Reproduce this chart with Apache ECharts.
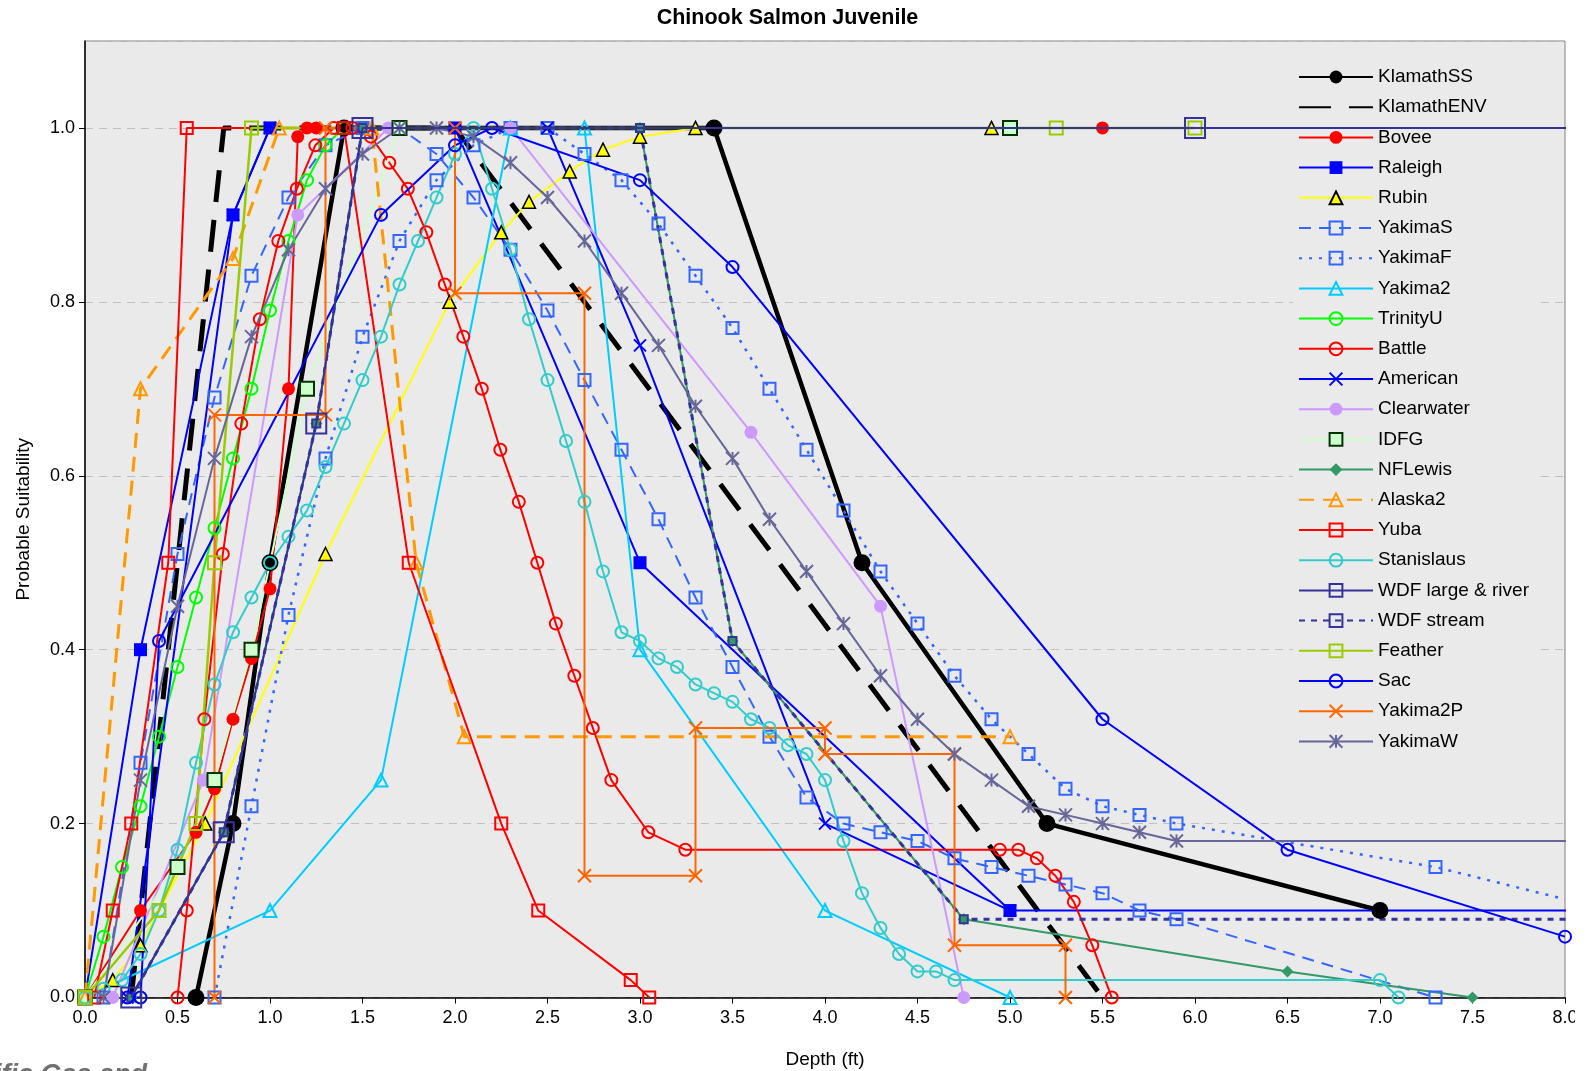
<!DOCTYPE html>
<html>
<head>
<meta charset="utf-8">
<title>Chinook Salmon Juvenile</title>
<script src="https://cdn.jsdelivr.net/npm/echarts@6/dist/echarts.min.js"></script>
<style>
  html, body { margin: 0; padding: 0; background: #ffffff; }
  #chart { width: 1575px; height: 1071px; }
</style>
</head>
<body>
<div id="chart"></div>
<script>
// Habitat suitability curves: [depth (ft), probable suitability]
const klamathSS = [[0.6,0],[0.8,0.2],[1.0,0.5],[1.4,1.0],[3.4,1.0],[4.2,0.5],[5.2,0.2],[7.0,0.1]];
const klamathENV = [[0.25,0],[0.75,1.0],[2.0,1.0],[5.5,0]];
const bovee = [[0,0],[0.3,0.1],[0.6,0.19],[0.7,0.24],[0.8,0.32],[0.9,0.39],[1.0,0.47],[1.1,0.7],[1.15,0.99],[1.2,1.0],[1.25,1.0],[5.5,1.0]];
const raleigh = [[0,0],[0.3,0.4],[0.8,0.9],[1.0,1.0],[2.0,1.0],[3.0,0.5],[5.0,0.1],[8.2,0.1]];
const rubin = [[0,0],[0.15,0.02],[0.3,0.06],[0.65,0.2],[1.3,0.51],[1.97,0.8],[2.25,0.88],[2.4,0.915],[2.62,0.95],[2.8,0.975],[3.0,0.99],[3.3,1.0],[4.9,1.0]];
const yakimaS = [[0.1,0],[0.3,0.27],[0.5,0.51],[0.7,0.69],[0.9,0.83],[1.1,0.92],[1.3,0.98],[1.5,1.0],[1.7,1.0],[1.9,0.97],[2.1,0.92],[2.3,0.86],[2.5,0.79],[2.7,0.71],[2.9,0.63],[3.1,0.55],[3.3,0.46],[3.5,0.38],[3.7,0.30],[3.9,0.23],[4.1,0.20],[4.3,0.19],[4.5,0.18],[4.7,0.16],[4.9,0.15],[5.1,0.14],[5.3,0.13],[5.5,0.12],[5.7,0.10],[5.9,0.09],[7.3,0]];
const yakimaF = [[0.7,0],[0.9,0.22],[1.1,0.44],[1.3,0.62],[1.5,0.76],[1.7,0.87],[1.9,0.94],[2.1,0.98],[2.3,1.0],[2.5,1.0],[2.7,0.97],[2.9,0.94],[3.1,0.89],[3.3,0.83],[3.5,0.77],[3.7,0.70],[3.9,0.63],[4.1,0.56],[4.3,0.49],[4.5,0.43],[4.7,0.37],[4.9,0.32],[5.1,0.28],[5.3,0.24],[5.5,0.22],[5.7,0.21],[5.9,0.20],[7.3,0.15],[8.0,0.113]];
const yakima2 = [[0,0],[1.0,0.1],[1.6,0.25],[2.3,1.0],[2.7,1.0],[3.0,0.4],[4.0,0.1],[5.0,0]];
const trinityU = [[0,0],[0.1,0.07],[0.2,0.15],[0.3,0.22],[0.4,0.3],[0.5,0.38],[0.6,0.46],[0.7,0.54],[0.8,0.62],[0.9,0.7],[1.0,0.79],[1.1,0.87],[1.2,0.94],[1.3,0.98],[1.4,1.0]];
const battle = [[0.5,0],[0.55,0.1],[0.645,0.32],[0.745,0.51],[0.845,0.66],[0.945,0.78],[1.045,0.87],[1.145,0.93],[1.245,0.98],[1.345,1.0],[1.445,1.0],[1.545,0.99],[1.645,0.96],[1.745,0.93],[1.845,0.88],[1.945,0.82],[2.045,0.76],[2.145,0.70],[2.245,0.63],[2.345,0.57],[2.445,0.50],[2.545,0.43],[2.645,0.37],[2.745,0.31],[2.845,0.25],[3.045,0.19],[3.245,0.17],[4.945,0.17],[5.045,0.17],[5.145,0.16],[5.245,0.14],[5.345,0.11],[5.445,0.06],[5.55,0]];
const american = [[0.23,0],[0.8,0.9],[1.0,1.0],[2.5,1.0],[3.0,0.75],[4.0,0.2],[5.0,0.1]];
const clearwater = [[0.15,0],[0.64,0.25],[1.15,0.9],[1.64,1.0],[2.3,1.0],[3.6,0.65],[4.3,0.45],[4.75,0]];
const idfg = [[0,0],[0.5,0.15],[0.7,0.25],[0.9,0.4],[1.2,0.7],[1.7,1.0],[5.0,1.0]];
const nfLewis = [[0.25,0],[0.75,0.19],[1.25,0.66],[1.5,1.0],[3.0,1.0],[3.5,0.41],[4.75,0.09],[6.5,0.03],[7.5,0]];
const alaska2 = [[0,0],[0.3,0.7],[0.8,0.85],[1.05,1.0],[1.55,1.0],[1.79,0.5],[2.05,0.3],[5.0,0.3]];
const yuba = [[0.05,0],[0.15,0.1],[0.25,0.2],[0.45,0.5],[0.55,1.0],[1.4,1.0],[1.75,0.5],[2.25,0.2],[2.45,0.1],[2.95,0.02],[3.05,0]];
const stanislaus = [[0,0],[0.1,0.01],[0.2,0.02],[0.3,0.05],[0.4,0.1],[0.5,0.17],[0.6,0.27],[0.7,0.36],[0.8,0.42],[0.9,0.46],[1.0,0.5],[1.1,0.53],[1.2,0.56],[1.3,0.61],[1.4,0.66],[1.5,0.71],[1.6,0.76],[1.7,0.82],[1.8,0.87],[1.9,0.92],[2.0,0.97],[2.1,1.0],[2.2,0.93],[2.3,0.86],[2.4,0.78],[2.5,0.71],[2.6,0.64],[2.7,0.57],[2.8,0.49],[2.9,0.42],[3.0,0.41],[3.1,0.39],[3.2,0.38],[3.3,0.36],[3.4,0.35],[3.5,0.34],[3.6,0.32],[3.7,0.31],[3.8,0.29],[3.9,0.28],[4.0,0.25],[4.1,0.18],[4.2,0.12],[4.3,0.08],[4.4,0.05],[4.5,0.03],[4.6,0.03],[4.7,0.02],[7.0,0.02],[7.1,0]];
const wdfLarge = [[0.25,0],[0.75,0.19],[1.25,0.66],[1.5,1.0],[6.0,1.0],[8.2,1.0]];
const wdfStream = [[0.25,0],[0.75,0.19],[1.25,0.66],[1.5,1.0],[3.0,1.0],[3.5,0.41],[4.75,0.09],[8.2,0.09]];
const feather = [[0,0],[0.4,0.1],[0.6,0.2],[0.7,0.5],[0.9,1.0],[5.25,1.0],[6.0,1.0]];
const sac = [[0.23,0],[0.3,0],[0.4,0.41],[1.6,0.9],[2.0,0.98],[2.2,1.0],[3.0,0.94],[3.5,0.84],[5.5,0.32],[6.5,0.17],[8.0,0.07]];
const yakima2P = [[0.7,0],[0.7,0.67],[1.3,0.67],[1.3,1.0],[2.0,1.0],[2.0,0.81],[2.7,0.81],[2.7,0.14],[3.3,0.14],[3.3,0.31],[4.0,0.31],[4.0,0.28],[4.7,0.28],[4.7,0.06],[5.3,0.06],[5.3,0]];
const yakimaW = [[0.1,0],[0.3,0.25],[0.5,0.45],[0.7,0.62],[0.9,0.76],[1.1,0.86],[1.3,0.93],[1.5,0.97],[1.7,1.0],[1.9,1.0],[2.1,0.99],[2.3,0.96],[2.5,0.92],[2.7,0.87],[2.9,0.81],[3.1,0.75],[3.3,0.68],[3.5,0.62],[3.7,0.55],[3.9,0.49],[4.1,0.43],[4.3,0.37],[4.5,0.32],[4.7,0.28],[4.9,0.25],[5.1,0.22],[5.3,0.21],[5.5,0.20],[5.7,0.19],[5.9,0.18],[8.2,0.18]];

const xTicks = [0,0.5,1,1.5,2,2.5,3,3.5,4,4.5,5,5.5,6,6.5,7,7.5,8];
const yTicks = [0,0.2,0.4,0.6,0.8,1.0];

const FONT = '"Liberation Sans", Arial, sans-serif';
const X_SYM = 'path://M0,0L10,10M10,0L0,10';
const STAR_SYM = 'path://M5,0L5,10M0,0L10,10M10,0L0,10';
const CLEAR = 'rgba(0,0,0,0)';

// Points at or past the right border only carry a curve on; they get no marker
function tail(arr, edge) {
  return arr.map(p => p[0] >= edge ? { value: p, symbol: 'none' } : p);
}

function mk(name, data, o) {
  const s = {
    name: name,
    type: 'line',
    data: tail(data, o.openEnd ? 8 : 8.01),
    symbol: o.symbol || 'none',
    symbolSize: o.size || 12,
    showSymbol: !!o.symbol,
    lineStyle: { color: o.color, width: o.width || 2, type: o.dash || 'solid', cap: 'butt' },
    itemStyle: {
      color: o.fill === undefined ? o.color : o.fill,
      borderColor: o.border || o.color,
      borderWidth: o.bw === undefined ? 2 : o.bw
    },
    emphasis: { disabled: true },
    animation: false,
    z: o.z || 2
  };
  if (o.noclip) s.clip = false;
  return s;
}

const series = [
  mk('KlamathSS', klamathSS, { color: '#000000', width: 4.5, symbol: 'circle', size: 17, bw: 0 }),
  mk('KlamathENV', klamathENV, { color: '#000000', width: 5, dash: [32, 18], fill: CLEAR, border: CLEAR, bw: 0 }),
  mk('Bovee', bovee, { color: '#FF0000', symbol: 'circle', size: 13, bw: 0 }),
  mk('Raleigh', raleigh, { color: '#0000FF', symbol: 'rect', size: 13, bw: 0, noclip: true }),
  mk('Rubin', rubin, { color: '#FFFF00', symbol: 'triangle', size: 13, fill: '#FFFF00', border: '#000000', bw: 1.5 }),
  mk('YakimaS', yakimaS, { color: '#3366FF', dash: [12, 8], symbol: 'rect', size: 12, fill: CLEAR }),
  mk('YakimaF', yakimaF, { color: '#3366FF', width: 2.5, dash: [3, 7], symbol: 'rect', size: 12, fill: CLEAR, openEnd: true }),
  mk('Yakima2', yakima2, { color: '#00CCFF', symbol: 'triangle', size: 13, fill: CLEAR }),
  mk('TrinityU', trinityU, { color: '#00FF00', symbol: 'circle', size: 12, fill: CLEAR }),
  mk('Battle', battle, { color: '#FF0000', symbol: 'circle', size: 12, fill: CLEAR }),
  mk('American', american, { color: '#0000FF', symbol: X_SYM, size: 12, fill: CLEAR }),
  mk('Clearwater', clearwater, { color: '#CC99FF', symbol: 'circle', size: 13, bw: 0 }),
  mk('IDFG', idfg, { color: '#CCFFCC', symbol: 'rect', size: 14, fill: '#CCFFCC', border: '#003300', bw: 2 }),
  mk('NFLewis', nfLewis, { color: '#339966', symbol: 'diamond', size: 12, bw: 0 }),
  mk('Alaska2', alaska2, { color: '#FF9900', width: 3, dash: [15, 9], symbol: 'triangle', size: 13, fill: CLEAR }),
  mk('Yuba', yuba, { color: '#FF0000', symbol: 'rect', size: 12, fill: CLEAR }),
  mk('Stanislaus', stanislaus, { color: '#33CCCC', symbol: 'circle', size: 12, fill: CLEAR }),
  mk('WDF large & river', wdfLarge, { color: '#333399', symbol: 'rect', size: 20, fill: CLEAR, noclip: true, z: 5 }),
  mk('WDF stream', wdfStream, { color: '#333399', width: 3, dash: [6, 6], symbol: 'rect', size: 8, fill: CLEAR, noclip: true }),
  mk('Feather', feather, { color: '#99CC00', width: 2.5, symbol: 'rect', size: 13, fill: CLEAR }),
  mk('Sac', sac, { color: '#0000FF', symbol: 'circle', size: 12, fill: CLEAR }),
  mk('Yakima2P', yakima2P, { color: '#FF6600', symbol: X_SYM, size: 13, fill: CLEAR }),
  mk('YakimaW', yakimaW, { color: '#666699', symbol: STAR_SYM, size: 13, fill: CLEAR, noclip: true })
];

const chart = echarts.init(document.getElementById('chart'), null, { renderer: 'canvas' });

chart.setOption({
  animation: false,
  backgroundColor: '#ffffff',
  textStyle: { fontFamily: FONT },
  title: {
    text: 'Chinook Salmon Juvenile',
    left: 'center',
    top: 2,
    textStyle: { fontFamily: FONT, fontSize: 21.5, fontWeight: 'bold', color: '#000000' }
  },
  grid: {
    left: 85, right: 10, top: 41, bottom: 73.5,
    outerBoundsMode: 'none',
    containLabel: false,
    show: true,
    backgroundColor: '#EAEAEA',
    borderColor: '#808080',
    borderWidth: 1
  },
  legend: {
    orient: 'vertical',
    left: 1293,
    top: 62,
    itemWidth: 74,
    itemHeight: 16,
    itemGap: 10.2,
    padding: [5, 8, 5, 5],
    backgroundColor: '#EAEAEA',
    textStyle: { fontFamily: FONT, fontSize: 19, color: '#000000', lineHeight: 20 },
    data: series.map(s => s.name)
  },
  xAxis: {
    type: 'value',
    min: 0,
    max: 8,
    interval: 0.5,
    name: 'Depth (ft)',
    nameLocation: 'middle',
    nameGap: 53,
    nameTextStyle: { fontFamily: FONT, fontSize: 19, color: '#000000' },
    axisLine: { onZero: false, lineStyle: { color: '#000000', width: 1.5 } },
    axisTick: { show: true, inside: false, length: 6, lineStyle: { color: '#000000' } },
    axisLabel: {
      margin: 12,
      fontFamily: FONT, fontSize: 18, color: '#000000',
      formatter: v => xTicks.includes(v) ? v.toFixed(1) : ''
    },
    splitLine: { show: false }
  },
  yAxis: {
    type: 'value',
    min: 0,
    max: 1.1,
    interval: 0.2,
    name: 'Probable Suitability',
    nameLocation: 'middle',
    nameGap: 52,
    nameRotate: 90,
    nameTextStyle: { fontFamily: FONT, fontSize: 19, color: '#000000' },
    axisLine: { show: true, lineStyle: { color: '#000000', width: 1.5 } },
    axisTick: { show: true, inside: false, length: 6, lineStyle: { color: '#000000' } },
    axisLabel: {
      margin: 10,
      showMaxLabel: false,
      fontFamily: FONT, fontSize: 18, color: '#000000',
      formatter: v => yTicks.some(t => Math.abs(t - v) < 1e-6) ? v.toFixed(1) : ''
    },
    splitLine: { show: true, lineStyle: { color: '#C0C0C0', type: [8, 6], width: 1 } }
  },
  graphic: [{
    type: 'text',
    silent: true,
    style: {
      text: 'Pacific Gas and',
      x: 147,
      y: 1062,
      align: 'right',
      verticalAlign: 'top',
      font: 'italic bold 27px "Liberation Sans", Arial, sans-serif',
      fill: '#707070'
    }
  }],
  series: series
});
</script>
</body>
</html>
